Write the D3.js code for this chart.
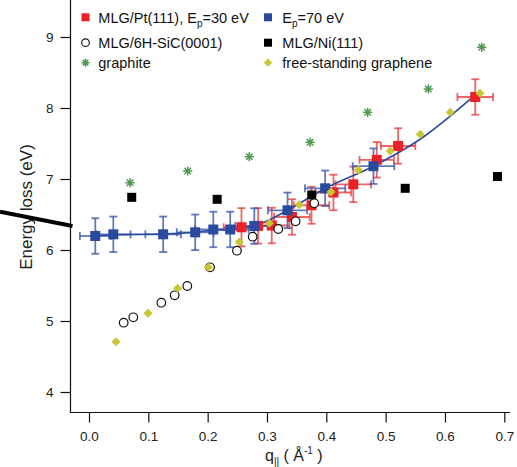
<!DOCTYPE html>
<html><head><meta charset="utf-8">
<script src="https://cdn.jsdelivr.net/npm/d3@7"></script>
<style>body{margin:0;background:#fff}svg{display:block}text{font-family:"Liberation Sans",Arial,Helvetica,sans-serif}</style>
</head><body>
<svg id="c" width="517" height="467"></svg>
<script>
// ---- data (q in 1/Å, E in eV) ----
const ptQ  = [0.257, 0.285, 0.308, 0.342, 0.375, 0.412, 0.4455, 0.485, 0.521, 0.651];
const ptE  = [6.32, 6.34, 6.345, 6.465, 6.63, 6.81, 6.925, 7.27, 7.465, 8.155];
const ptQerr = [0.03, 0.03, 0.03, 0.03, 0.03, 0.03, 0.03, 0.029, 0.029, 0.03];
const ptEerr = [0.27, 0.25, 0.25, 0.25, 0.26, 0.25, 0.25, 0.25, 0.25, 0.25];

const p70Q = [0.0106, 0.041, 0.125, 0.179, 0.2095, 0.238, 0.2786, 0.3346, 0.398, 0.4795];
const p70E = [6.197, 6.221, 6.221, 6.249, 6.289, 6.289, 6.338, 6.559, 6.869, 7.18];
const p70Qerr = [0.026, 0.029, 0.03, 0.031, 0.031, 0.031, 0.032, 0.033, 0.034, 0.035];
const p70Eerr = [0.25, 0.25, 0.25, 0.25, 0.25, 0.25, 0.25, 0.25, 0.25, 0.25];

const fitQ = [0.0106, 0.041, 0.125, 0.179, 0.2095, 0.238, 0.2786, 0.3346, 0.398, 0.4795, 0.56, 0.649];
const fitE = [6.197, 6.215, 6.225, 6.249, 6.28, 6.289, 6.338, 6.559, 6.869, 7.18, 7.57, 8.17];

const sicQ = [0.0585, 0.0747, 0.1219, 0.1444, 0.1657, 0.204, 0.2494, 0.2759, 0.319, 0.3483, 0.3797];
const sicE = [4.976, 5.052, 5.258, 5.362, 5.493, 5.756, 5.99, 6.187, 6.296, 6.404, 6.658];

const niQ = [0.072, 0.216, 0.3754, 0.533, 0.6885];
const niE = [6.742, 6.714, 6.775, 6.869, 7.035];

const grQ = [0.0691, 0.1664, 0.2702, 0.3725, 0.4697, 0.5719, 0.6619];
const grE = [6.948, 7.113, 7.314, 7.517, 7.939, 8.268, 8.855];

const fsQ = [0.0455, 0.0994, 0.1495, 0.2011, 0.2533, 0.3039, 0.3543, 0.4079, 0.4542, 0.5077, 0.5584, 0.6088, 0.659];
const fsE = [4.708, 5.108, 5.461, 5.756, 6.113, 6.376, 6.638, 6.817, 7.127, 7.394, 7.631, 7.941, 8.207];

const xTicks = [0.0, 0.1, 0.2, 0.3, 0.4, 0.5, 0.6, 0.7];
const yTicks = [4, 5, 6, 7, 8, 9];

// ---- styles ----
const RED = "#ec2127", RED_ERR = "rgba(236,50,55,0.75)";
const BLUE = "#2a4a9e", BLUE_ERR = "rgba(60,90,170,0.8)";
const GREEN = "#4f9a4f", YEL = "#c9c632";

const svg = d3.select("#c");
const x = d3.scaleLinear().domain([0, 0.7]).range([89, 504.3]);
const y = d3.scaleLinear().domain([4, 9]).range([392, 37]);
const AX_L = 70.5, AX_B = 412.5, AX_R = 510, AX_T = 0;

// axes
const gx = svg.append("g").attr("transform", `translate(0,${AX_B})`)
  .call(d3.axisBottom(x).tickValues(xTicks).tickFormat(d3.format(".1f")).tickSize(10).tickPadding(9).tickSizeOuter(0));
const gy = svg.append("g").attr("transform", `translate(${AX_L},0)`)
  .call(d3.axisLeft(y).tickValues(yTicks).tickFormat(d3.format("d")).tickSize(10).tickPadding(7).tickSizeOuter(0));
[gx, gy].forEach(g => {
  g.select(".domain").remove();
  g.selectAll("line").attr("stroke", "#111").attr("stroke-width", 1.2);
  g.selectAll("text").attr("font-size", 13.5).attr("fill", "#222")
   .attr("font-family", '"Liberation Sans",Arial,Helvetica,sans-serif');
});
svg.append("line").attr("x1", AX_L).attr("x2", AX_L).attr("y1", AX_T).attr("y2", AX_B + 0.6)
  .attr("stroke", "#111").attr("stroke-width", 1.2);
svg.append("line").attr("x1", AX_L).attr("x2", AX_R).attr("y1", AX_B).attr("y2", AX_B)
  .attr("stroke", "#111").attr("stroke-width", 1.2);

// axis titles
svg.append("text").attr("transform", "translate(32,207) rotate(-90)").attr("text-anchor", "middle")
  .attr("font-size", 17).attr("fill", "#222").text("Energy loss (eV)");
const xt = svg.append("text").attr("x", 265).attr("y", 461).attr("font-size", 16).attr("fill", "#222");
xt.append("tspan").text("q");
xt.append("tspan").attr("font-size", 10).attr("dy", 4).text("||");
xt.append("tspan").attr("dy", -4).text(" ( Å");
xt.append("tspan").attr("font-size", 10).attr("dy", -7).text("-1");
xt.append("tspan").attr("dy", 7).text(" )");

// error bars helper
function errBars(Q, E, Qe, Ee, color) {
  const g = svg.append("g").attr("stroke", color).attr("stroke-width", 1.8).attr("fill", "none");
  const cap = 4;
  Q.forEach((q, i) => {
    const cx = x(q), cy = y(E[i]);
    const y0 = y(E[i] - Ee[i]), y1 = y(E[i] + Ee[i]);
    const x0 = x(q - Qe[i]), x1 = x(q + Qe[i]);
    g.append("line").attr("x1", cx).attr("x2", cx).attr("y1", y0).attr("y2", y1);
    g.append("line").attr("x1", cx - cap).attr("x2", cx + cap).attr("y1", y0).attr("y2", y0);
    g.append("line").attr("x1", cx - cap).attr("x2", cx + cap).attr("y1", y1).attr("y2", y1);
    g.append("line").attr("x1", x0).attr("x2", x1).attr("y1", cy).attr("y2", cy);
    g.append("line").attr("x1", x0).attr("x2", x0).attr("y1", cy - cap).attr("y2", cy + cap);
    g.append("line").attr("x1", x1).attr("x2", x1).attr("y1", cy - cap).attr("y2", cy + cap);
  });
}
errBars(ptQ, ptE, ptQerr, ptEerr, RED_ERR);
errBars(p70Q, p70E, p70Qerr, p70Eerr, BLUE_ERR);

// fit line
svg.append("path").datum(fitQ.map((q, i) => [q, fitE[i]]))
  .attr("d", d3.line().x(d => x(d[0])).y(d => y(d[1])).curve(d3.curveMonotoneX))
  .attr("fill", "none").attr("stroke", BLUE).attr("stroke-width", 1.6);

// markers
function squares(Q, E, color, s) {
  svg.append("g").selectAll("rect").data(Q).join("rect")
    .attr("x", (q) => x(q) - s / 2).attr("y", (q, i) => y(E[i]) - s / 2)
    .attr("width", s).attr("height", s).attr("fill", color);
}
squares(ptQ, ptE, RED, 10);
squares(p70Q, p70E, BLUE, 10);
squares(niQ, niE, "#000", 9);

function star(g, cx, cy, r, color) {
  const p = d3.path();
  for (let k = 0; k < 4; k++) {
    const a = k * Math.PI / 4;
    p.moveTo(cx - r * Math.cos(a), cy - r * Math.sin(a));
    p.lineTo(cx + r * Math.cos(a), cy + r * Math.sin(a));
  }
  g.append("path").attr("d", p.toString()).attr("stroke", color).attr("stroke-width", 1.5).attr("fill", "none");
}
const gg = svg.append("g");
grQ.forEach((q, i) => star(gg, x(q), y(grE[i]), 4.6, GREEN));

svg.append("g").selectAll("circle").data(sicQ).join("circle")
  .attr("cx", q => x(q)).attr("cy", (q, i) => y(sicE[i])).attr("r", 4.3)
  .attr("fill", "#fff").attr("stroke", "#111").attr("stroke-width", 1.2);

const diamond = d3.symbol().type(d3.symbolDiamond2).size(52);
svg.append("g").selectAll("path").data(fsQ).join("path")
  .attr("transform", (q, i) => `translate(${x(q)},${y(fsE[i])})`)
  .attr("d", diamond).attr("fill", YEL);

// legend
const L = svg.append("g").attr("font-size", 14.5).attr("fill", "#111");
function legText(tx, ty, parts) {
  const t = L.append("text").attr("x", tx).attr("y", ty);
  parts.forEach(p => {
    const s = t.append("tspan").text(p.t);
    if (p.sub) s.attr("font-size", 10).attr("dy", 4);
    if (p.back) s.attr("dy", -4);
  });
}
L.append("rect").attr("x", 81.5).attr("y", 13.3).attr("width", 8).attr("height", 8).attr("fill", RED);
legText(98.3, 23, [{t: "MLG/Pt(111), E"}, {t: "p", sub: true}, {t: "=30 eV", back: true}]);
L.append("rect").attr("x", 264).attr("y", 13.3).attr("width", 8).attr("height", 8).attr("fill", BLUE);
legText(282.3, 23, [{t: "E"}, {t: "p", sub: true}, {t: "=70 eV", back: true}]);
L.append("circle").attr("cx", 85.5).attr("cy", 42.7).attr("r", 3.8).attr("fill", "#fff").attr("stroke", "#111").attr("stroke-width", 1.1);
legText(98.3, 48, [{t: "MLG/6H-SiC(0001)"}]);
L.append("rect").attr("x", 264).attr("y", 38.7).attr("width", 8).attr("height", 8).attr("fill", "#000");
legText(282.3, 48, [{t: "MLG/Ni(111)"}]);
star(L, 85.5, 62.7, 4, GREEN);
legText(98.3, 68, [{t: "graphite"}]);
L.append("path").attr("transform", "translate(268,62.7)").attr("d", d3.symbol().type(d3.symbolDiamond2).size(44)).attr("fill", YEL);
legText(282.3, 68, [{t: "free-standing graphene"}]);

// stray thick black line crossing the y-axis title
svg.append("line").attr("x1", 0).attr("y1", 211.7).attr("x2", 72.5).attr("y2", 226)
  .attr("stroke", "#000").attr("stroke-width", 4.2);
</script>
</body></html>
